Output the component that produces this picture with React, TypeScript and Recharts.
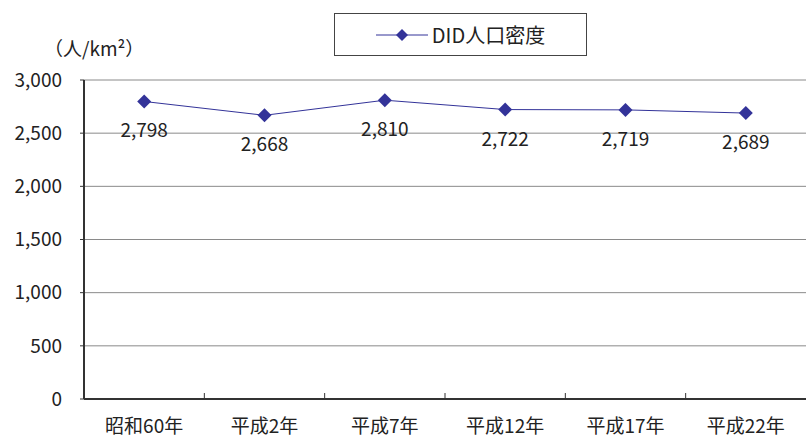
import { LineChart, Line, XAxis, YAxis, CartesianGrid, LabelList } from "recharts";

const years = ["昭和60年", "平成2年", "平成7年", "平成12年", "平成17年", "平成22年"];
const density = [2798, 2668, 2810, 2722, 2719, 2689];
const yTicks = [0, 500, 1000, 1500, 2000, 2500, 3000];

const data = years.map((year, i) => ({ year, density: density[i] }));

const FONT = "'Noto Sans CJK JP', 'Noto Sans', sans-serif";
const NAVY = "#333399";
const BAND = (806 - 84) / years.length;

const Diamond = (props: any) => {
  const { cx, cy } = props;
  if (cx == null || cy == null) return null;
  const r = 7;
  return (
    <path
      d={`M${cx},${cy - r}L${cx + r},${cy}L${cx},${cy + r}L${cx - r},${cy}Z`}
      fill={NAVY}
    />
  );
};

const XTick = (props: any) => {
  const { x, payload } = props;
  const axisY = 399;
  return (
    <g>
      <line x1={x - BAND / 2} x2={x - BAND / 2} y1={axisY - 6} y2={axisY} stroke="#333" strokeWidth={1} />
      <text x={x} y={axisY + 34} textAnchor="middle" fontSize={19} fill="#222" fontFamily={FONT}>
        {payload.value}
      </text>
    </g>
  );
};

const ValueLabel = (props: any) => {
  const { x, y, value } = props;
  return (
    <text x={x} y={y + 36} textAnchor="middle" fontSize={19} fill="#222" fontFamily={FONT}>
      {value.toLocaleString("en-US")}
    </text>
  );
};

export default function App() {
  return (
    <div style={{ position: "absolute", left: 0, top: 0, width: 806, height: 439, background: "#fff", overflow: "hidden" }}>
      <LineChart width={806} height={439} data={data} margin={{ top: 80, right: 0, bottom: 0, left: 0 }}>
        <CartesianGrid vertical={false} stroke="#8a8a8a" strokeWidth={1} />
        <XAxis
          dataKey="year"
          scale="band"
          height={40}
          tickLine={false}
          tickSize={0}
          tickMargin={0}
          axisLine={{ stroke: "#333", strokeWidth: 2 }}
          tick={<XTick />}
          interval={0}
        />
        <YAxis
          width={84}
          domain={[0, 3000]}
          ticks={yTicks}
          tickFormatter={(v: number) => v.toLocaleString("en-US")}
          tick={{ fontSize: 19, fill: "#222", fontFamily: FONT }}
          tickLine={{ stroke: "#333" }}
          tickSize={4}
          tickMargin={18}
          axisLine={{ stroke: "#333", strokeWidth: 2 }}
        />
        <Line
          dataKey="density"
          stroke={NAVY}
          strokeWidth={1}
          dot={<Diamond />}
          activeDot={false}
          isAnimationActive={false}
        >
          <LabelList dataKey="density" content={<ValueLabel />} />
        </Line>
      </LineChart>
      <div
        style={{
          position: "absolute",
          left: 44,
          top: 34,
          fontFamily: FONT,
          fontSize: 19,
          color: "#222",
          whiteSpace: "nowrap",
        }}
      >
        （人/km²）
      </div>
      <div
        style={{
          position: "absolute",
          left: 334,
          top: 13,
          width: 251,
          height: 41,
          border: "1px solid #444",
          background: "#fff",
          display: "flex",
          alignItems: "center",
          justifyContent: "center",
          fontFamily: FONT,
          fontSize: 20,
          color: "#222",
        }}
      >
        <svg width={52} height={14} style={{ marginRight: 4 }}>
          <line x1={0} x2={52} y1={7} y2={7} stroke={NAVY} strokeWidth={1} />
          <path d="M26,1L32,7L26,13L20,7Z" fill={NAVY} />
        </svg>
        <span>DID人口密度</span>
      </div>
    </div>
  );
}
